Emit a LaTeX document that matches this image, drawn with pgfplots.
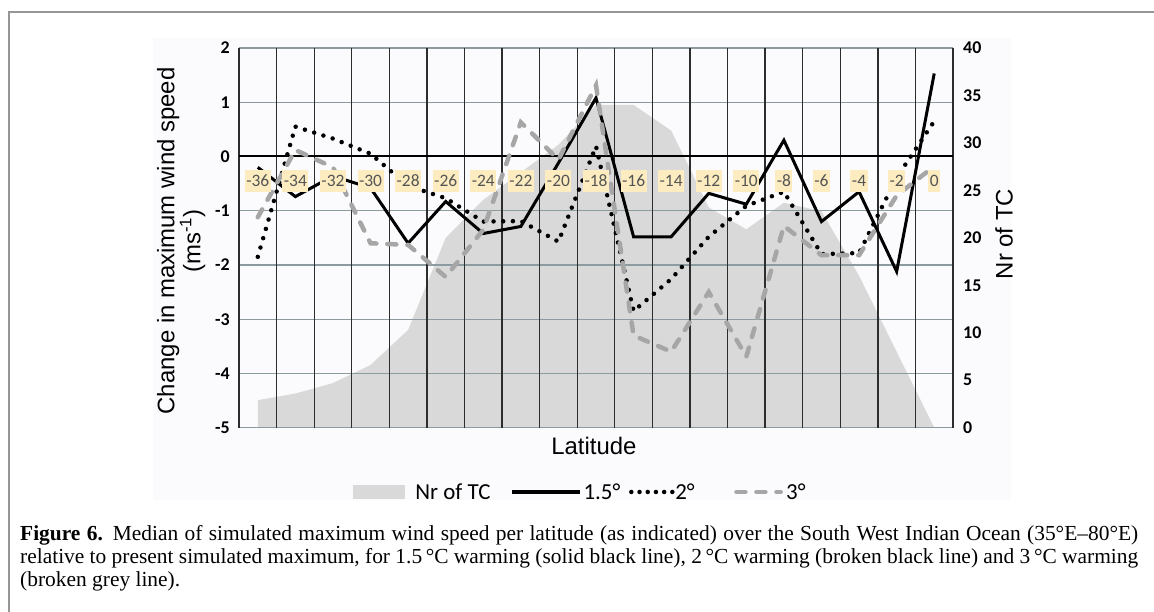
\documentclass[border=0pt]{standalone}
\usepackage{pgfplots}
\pgfplotsset{compat=1.18}
\usepackage{pgfplotstable}
\usepackage{fontspec}
\setmainfont{Liberation Sans}
\newfontfamily\calib{Carlito}[BoldFont={Carlito Bold}]
\newfontfamily\capfont{Liberation Serif}
\definecolor{tcgray}{RGB}{217,217,217}
\definecolor{dashgray}{RGB}{166,166,166}
\definecolor{vgrid}{RGB}{45,45,45}
\definecolor{hgrid}{RGB}{140,155,160}
\definecolor{labfill}{RGB}{252,236,192}
\definecolor{labtext}{RGB}{85,85,85}
\definecolor{framegray}{RGB}{150,150,150}
\definecolor{chartbg}{RGB}{251,251,253}

\pgfplotstableread{
i tc v15 v2 v3
0 2.9 -0.20 -1.85 -1.12
1 3.6 -0.74 0.55 0.12
2 4.7 -0.36 0.33 -0.20
3 6.6 -0.58 0.05 -1.60
4 10.3 -1.60 -0.54 -1.63
5 20.0 -0.83 -0.77 -2.22
6 24.0 -1.42 -1.20 -1.35
7 26.9 -1.29 -1.19 0.63
8 29.8 -0.12 -1.57 -0.06
9 34.0 1.08 0.19 1.31
10 34.0 -1.48 -2.85 -3.30
11 31.3 -1.48 -2.26 -3.60
12 23.2 -0.68 -1.48 -2.50
13 20.9 -0.88 -0.91 -3.69
14 23.7 0.30 -0.65 -1.28
15 22.8 -1.20 -1.80 -1.82
16 16.0 -0.65 -1.78 -1.82
17 8.0 -2.12 -0.39 -0.72
18 0.0 1.53 0.65 -0.18
}\data

\pgfplotsset{base/.style={scale only axis, width=714bp, height=379.7bp,
  xmin=-0.5, xmax=18.5, at={(239bp,184.3bp)}, anchor=south west,
  axis line style={draw=none}, tick style={draw=none}, major tick length=0pt}}

\begin{document}
\begin{tikzpicture}[x=1bp,y=1bp]
\useasboundingbox (0,0) rectangle (1154,612);
\fill[chartbg] (153,112) rectangle (1011,574);
\draw[framegray, line width=1.5bp] (9,-10) -- (9,600) -- (1170,600);

% area: Nr of TC (right axis)
\begin{axis}[base, ymin=0, ymax=40, axis x line=none, axis y line*=right,
  ytick={0,5,...,40}, yticklabels={0,5,10,15,20,25,30,35,40},
  yticklabel style={font=\calib\bfseries\fontsize{18}{18}\selectfont, anchor=west, inner sep=0pt, xshift=10bp},
  ylabel={Nr of TC},
  ylabel style={font=\fontsize{24}{27}\selectfont, at={(axis description cs:1.0714,0.51)}, anchor=center}]
\addplot[fill=tcgray, draw=none] table[x=i, y=tc]{\data} \closedcycle;
\end{axis}

% horizontal grid + left axis labels
\begin{axis}[base, ymin=-5, ymax=2,
  xtick={-0.5,0.5,...,18.5}, xticklabels={},
  ytick={-5,...,2}, yticklabels={-5,-4,-3,-2,-1,0,1,2},
  ymajorgrids, grid style={hgrid, line width=1.2bp},
  yticklabel style={font=\calib\bfseries\fontsize{18}{18}\selectfont, anchor=east, inner sep=0pt, xshift=-9bp},
  xlabel={Latitude},
  xlabel style={font=\fontsize{24}{27}\selectfont, at={(axis description cs:0.497,0)}, anchor=base, yshift=-27.3bp},
  ylabel={Change in maximum wind speed\\(ms\textsuperscript{-1})},
  ylabel style={font=\fontsize{24}{26}\selectfont, align=center, inner sep=0pt, at={(axis description cs:-0.0469,0.492)}, anchor=south}]
\end{axis}

% vertical grid + series + legend
\begin{axis}[base, ymin=-5, ymax=2,
  xtick={-0.5,0.5,...,18.5}, xticklabels={}, ytick={-5,...,2}, yticklabels={},
  xmajorgrids, grid style={vgrid, line width=1.3bp},
  legend style={at={(axis description cs:0.1597,-0.1693)}, anchor=west, draw=none, fill=none,
    font=\calib\fontsize{23}{23}\selectfont, inner sep=0pt, nodes={inner sep=0pt},
    /tikz/every even column/.append style={column sep=0bp},
    /tikz/every odd column/.append style={column sep=0bp}},
  legend columns=-1]
\addlegendimage{legend image code/.code={\path[draw=none,fill=none] (0bp,0bp) -- (62bp,0bp); \fill[tcgray] (0bp,-6.5bp) rectangle (51bp,6.5bp);}}
\addlegendentry{Nr of TC}
\addplot[black, line width=2bp, forget plot] coordinates {(-0.5,0) (18.5,0)};
\addplot[black, line width=3bp, legend image code/.code={\path[draw=none] (0bp,0bp) -- (93bp,0bp); \draw[black, line width=3.2bp] (21bp,0bp) -- (89bp,0bp);}]
  table[x=i, y=v15]{\data};
\addlegendentry{1.5°}
\addplot[black, line width=4.5bp, line cap=round, dash pattern=on 0bp off 9.7bp,
  legend image code/.code={\path[draw=none] (0bp,0bp) -- (55bp,0bp); \draw[black, line width=4.5bp, line cap=round, dash pattern=on 0bp off 8.2bp] (11bp,0bp) -- (52.1bp,0bp);}]
  table[x=i, y=v2]{\data};
\addlegendentry{2°}
\addplot[dashgray, line width=4.5bp, line cap=round, dash pattern=on 9bp off 11bp,
  legend image code/.code={\path[draw=none] (0bp,0bp) -- (91.5bp,0bp); \draw[dashgray, line width=4.5bp, line cap=round, dash pattern=on 9bp off 11bp] (41.75bp,0bp) -- (86bp,0bp);}]
  table[x=i, y=v3]{\data};
\addlegendentry{3°}
\end{axis}

% category labels on top
\begin{axis}[base, ymin=-5, ymax=2, hide y axis, axis x line*=bottom,
  xtick={0,...,18}, xticklabels={-36,-34,-32,-30,-28,-26,-24,-22,-20,-18,-16,-14,-12,-10,-8,-6,-4,-2,0},
  xticklabel style={font=\calib\fontsize{17.5}{17.5}\selectfont, text=labtext, fill=labfill,
    inner xsep=1.5bp, inner ysep=5.3bp, text height=11bp, text depth=0bp, anchor=center, yshift=246.9bp}]
\end{axis}

% caption
\node[anchor=base west, inner sep=0pt] at (20,71) {\capfont\fontsize{21.5}{23}\selectfont\makebox[1118bp][s]{\textbf{Figure 6.} Median of simulated maximum wind speed per latitude (as indicated) over the South West Indian Ocean (35°E–80°E)}};
\node[anchor=base west, inner sep=0pt] at (20,48) {\capfont\fontsize{21.5}{23}\selectfont\makebox[1118bp][s]{relative to present simulated maximum, for 1.5\,°C warming (solid black line), 2\,°C warming (broken black line) and 3\,°C warming}};
\node[anchor=base west, inner sep=0pt] at (20,25) {\capfont\fontsize{21.5}{23}\selectfont (broken grey line).};
\end{tikzpicture}
\end{document}
